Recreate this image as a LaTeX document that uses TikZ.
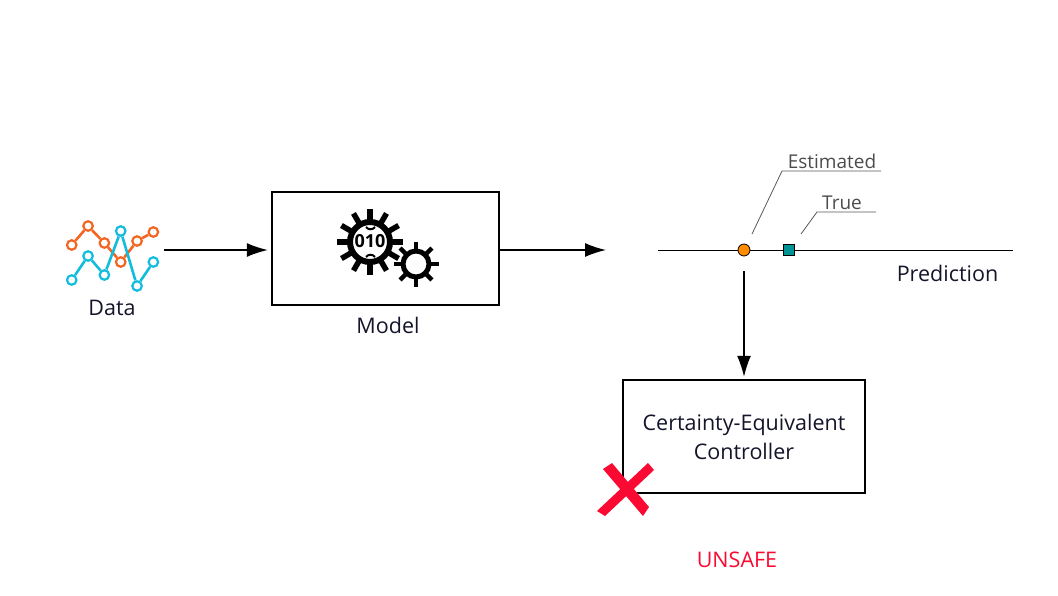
\documentclass[tikz,border=0pt]{standalone}
\usepackage{fontspec}
\setmainfont{Open Sans}
\usetikzlibrary{arrows.meta}
\definecolor{inkblue}{HTML}{14142B}
\definecolor{unsafered}{HTML}{FA0A32}
\definecolor{dataorange}{HTML}{F26522}
\definecolor{datacyan}{HTML}{12BCDD}
\begin{document}
\begin{tikzpicture}[x=1pt,y=-1pt,
  block/.style={draw=black, line width=2.4pt, anchor=center, align=center, text=inkblue, font=\fontsize{21.5}{29}\selectfont},
  label/.style={text=inkblue, font=\fontsize{21.5}{24}\selectfont, inner sep=0pt},
  tag/.style={text=black!70, font=\fontsize{19}{20}\selectfont, inner sep=0pt},
  flow/.style={-{Latex[length=21pt,width=14pt]}, line width=1.4pt},
  leader/.style={draw=black!65, line width=0.8pt},
  dot/.style={circle, draw, fill=white, line width=2.2pt, minimum size=9.5pt, inner sep=0pt}]
  \useasboundingbox (0,0) rectangle (1058,595);
  % data icon
  \foreach \name/\col/\ys in {o/dataorange/{245,226,243,262,241,232}, c/datacyan/{280,256,275,231,286,262}} {
    \foreach \y [count=\i, evaluate=\i as \x using {55.4+16.33*\i}] in \ys
      \node[dot, draw=\col] (\name\i) at (\x,\y) {};
    \draw[\col, line width=2.6pt] (\name1) -- (\name2) -- (\name3) -- (\name4) -- (\name5) -- (\name6);
  }
  \node[label] (data) at (112,308) {Data};
  % model
  \node[block, minimum width=227pt, minimum height=113pt] (model) at (385.5,248.5) {};
  \node[label] (modellabel) at (388,325) {Model};
  \foreach \a in {0,30,...,330}
    \draw[line width=5.5pt] (370,242) ++(\a:17) -- ++(\a:16);
  \node[circle, draw, line width=6pt, fill=white, minimum size=40pt, inner sep=0pt] (gearbig) at (370,242) {};
  \node[inner sep=0pt, font=\fontsize{18}{18}\selectfont\bfseries] (gearbits) at (370,241) {010};
  \draw[line width=2pt] (366,227) .. controls (368,230) and (373,230) .. (375,227);
  \draw[line width=2pt] (366,257) .. controls (368,254) and (373,254) .. (375,257);
  \foreach \a in {0,45,...,315}
    \draw[line width=4.5pt] (416,264) ++(\a:12) -- ++(\a:10.5);
  \node[circle, draw, line width=5pt, fill=white, minimum size=26pt, inner sep=0pt] (gearsmall) at (416,264) {};
  % prediction
  \coordinate (axisstart) at (658,250);
  \coordinate (axisend) at (1013,250);
  \coordinate (modelout) at (606,250);
  \coordinate (datain) at (164,250);
  \draw[line width=1pt] (axisstart) -- (axisend);
  \node[circle, draw=black, fill=orange!90!yellow, line width=0.8pt, minimum size=12pt, inner sep=0pt] (estimated) at (744,250) {};
  \node[rectangle, draw=black, fill=teal!85!cyan, line width=0.8pt, minimum size=11pt, inner sep=0pt] (true) at (789,250) {};
  \node[label] (prediction) at (947.5,273) {Prediction};
  \node[tag] (estimatedlabel) at (832,161) {Estimated};
  \node[tag] (truelabel) at (842,202.5) {True};
  \coordinate (estimatedfoot) at (752,234);
  \coordinate (truefoot) at (801,234);
  \draw[leader] (estimatedfoot) -- (782,171) -- (881,171);
  \draw[leader] (truefoot) -- (817,212) -- (876,212);
  % controller
  \node[block, minimum width=242pt, minimum height=113pt] (controller) at (744,436.5) {Certainty-Equivalent\\Controller};
  \draw[flow, shorten >=3pt] (datain) -- (datain -| model.west);
  \draw[flow] (datain -| model.east) -- (modelout);
  \draw[flow, shorten <=15pt, shorten >=2pt] (estimated.south) -- (controller.north);
  % red cross
  \fill[unsafered] (603,469) -- (612,463) -- (649,507) -- (643,516) -- cycle;
  \fill[unsafered] (648,463) -- (654,470) -- (605,516) -- (597,511) -- cycle;
  \node[label, text=unsafered] (unsafe) at (737,559.5) {UNSAFE};
\end{tikzpicture}
\end{document}
